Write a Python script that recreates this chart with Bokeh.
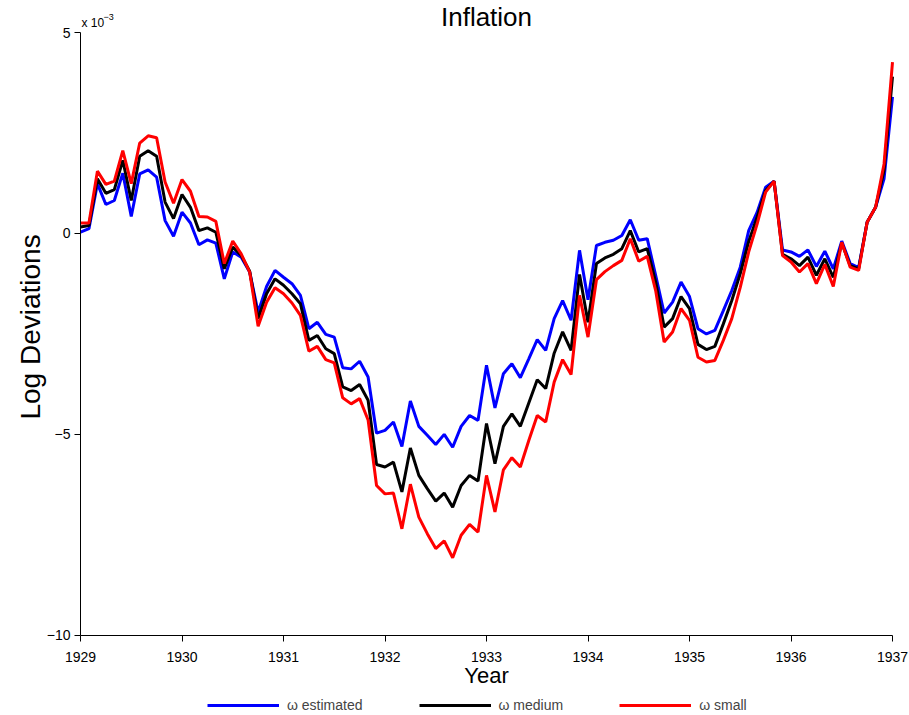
import math
from bokeh.plotting import figure
from bokeh.models import Legend, LegendItem, Label, FixedTicker, Range1d
from bokeh.embed import file_html
from bokeh.resources import INLINE

# ---- data (values in units of 10^-3), monthly Jan 1929 .. Jan 1937 ----
months = [1929 + i / 12 for i in range(97)]

omega_estimated = [
    0.03, 0.12, 1.24, 0.72, 0.82, 1.50, 0.42, 1.48, 1.58, 1.40, 0.32, -0.07,
    0.53, 0.26, -0.28, -0.16, -0.24, -1.13, -0.46, -0.59, -0.96, -1.96, -1.32, -0.92,
    -1.09, -1.25, -1.54, -2.37, -2.21, -2.51, -2.58, -3.34, -3.37, -3.18, -3.57, -4.97,
    -4.90, -4.69, -5.30, -4.17, -4.80, -5.02, -5.25, -5.00, -5.32, -4.80, -4.53, -4.65,
    -3.28, -4.34, -3.49, -3.24, -3.59, -3.12, -2.64, -2.91, -2.12, -1.67, -2.16, -0.42,
    -1.65, -0.30, -0.22, -0.17, -0.05, 0.34, -0.17, -0.13, -1.04, -1.98, -1.71, -1.21,
    -1.57, -2.37, -2.50, -2.41, -1.92, -1.42, -0.84, 0.07, 0.53, 1.15, 1.30, -0.41,
    -0.46, -0.57, -0.41, -0.82, -0.44, -0.88, -0.19, -0.75, -0.85, 0.28, 0.65, 1.36,
    3.40,
]
omega_medium = [
    0.16, 0.20, 1.36, 1.00, 1.09, 1.82, 0.82, 1.92, 2.06, 1.92, 0.78, 0.37,
    0.97, 0.65, 0.07, 0.14, 0.03, -0.88, -0.34, -0.55, -0.94, -2.12, -1.50, -1.13,
    -1.29, -1.50, -1.75, -2.66, -2.54, -2.87, -2.99, -3.82, -3.91, -3.76, -4.15, -5.75,
    -5.81, -5.69, -6.43, -5.34, -6.02, -6.35, -6.66, -6.46, -6.81, -6.27, -6.02, -6.16,
    -4.73, -5.73, -4.80, -4.49, -4.80, -4.22, -3.64, -3.86, -2.98, -2.45, -2.91, -1.02,
    -2.21, -0.75, -0.61, -0.52, -0.38, 0.07, -0.46, -0.38, -1.21, -2.33, -2.12, -1.57,
    -1.87, -2.76, -2.89, -2.81, -2.25, -1.67, -1.00, -0.20, 0.41, 1.07, 1.30, -0.52,
    -0.63, -0.80, -0.59, -1.04, -0.63, -1.09, -0.24, -0.80, -0.88, 0.28, 0.65, 1.57,
    3.90,
]
omega_small = [
    0.26, 0.26, 1.55, 1.22, 1.30, 2.06, 1.24, 2.25, 2.43, 2.38, 1.28, 0.75,
    1.34, 1.05, 0.42, 0.41, 0.30, -0.75, -0.19, -0.51, -0.96, -2.31, -1.71, -1.35,
    -1.50, -1.73, -2.04, -2.93, -2.81, -3.14, -3.22, -4.09, -4.24, -4.11, -4.64, -6.27,
    -6.48, -6.46, -7.35, -6.24, -7.06, -7.47, -7.84, -7.65, -8.07, -7.51, -7.24, -7.43,
    -6.02, -6.93, -5.88, -5.58, -5.81, -5.15, -4.53, -4.69, -3.70, -3.14, -3.51, -1.54,
    -2.58, -1.15, -0.95, -0.80, -0.67, -0.13, -0.69, -0.57, -1.42, -2.70, -2.45, -1.87,
    -2.16, -3.08, -3.20, -3.16, -2.66, -2.12, -1.34, -0.46, 0.24, 1.03, 1.30, -0.55,
    -0.71, -0.96, -0.75, -1.25, -0.77, -1.32, -0.22, -0.84, -0.92, 0.28, 0.65, 1.73,
    4.26,
]

x_ticks = [1929, 1930, 1931, 1932, 1933, 1934, 1935, 1936, 1937]
x_tick_labels = ["1929", "1930", "1931", "1932", "1933", "1934", "1935", "1936", "1937"]
y_ticks = [-10, -5, 0, 5]
y_tick_labels = ["\u221210", "\u22125", "0", "5"]

series_names = ["\u03c9 estimated", "\u03c9 medium", "\u03c9 small"]
series_colors = ["#0000ff", "#000000", "#ff0000"]

FONT = "Liberation Sans"

# The frame spans the whole canvas; both axes are pinned at (1929, -10)
# and bounded to the data box so that nothing outside the frame is clipped.
X0, X1, Y0, Y1 = 1929, 1937, -10, 5
px_per_year = 101.5
px_per_unit = 635 / 15.8
p = figure(width=909, height=715, output_backend="svg", toolbar_location=None,
           x_range=Range1d(X0 - 80 / px_per_year, X1 + 17 / px_per_year),
           y_range=Range1d(Y1 + 32 / px_per_unit - 715 / px_per_unit, Y1 + 32 / px_per_unit),
           min_border_left=0, min_border_right=0, min_border_top=0, min_border_bottom=0,
           title_location=None)
p.outline_line_color = None
p.grid.visible = False
p.background_fill_color = "white"
p.border_fill_color = "white"

for ax in (p.xaxis[0], p.yaxis[0]):
    ax.axis_line_color = "black"
    ax.axis_line_width = 1
    ax.major_tick_line_color = "black"
    ax.major_tick_out = 6
    ax.major_tick_in = 0
    ax.minor_tick_line_color = None
    ax.major_label_text_font = FONT
    ax.major_label_text_font_size = "14px"
    ax.major_label_text_color = "black"

p.xaxis[0].fixed_location = Y0
p.xaxis[0].bounds = (X0, X1)
p.xaxis[0].ticker = FixedTicker(ticks=x_ticks)
p.xaxis[0].major_label_overrides = {t: s for t, s in zip(x_ticks, x_tick_labels)}
p.xaxis[0].major_label_standoff = 11

p.yaxis[0].fixed_location = X0
p.yaxis[0].bounds = (Y0, Y1)
p.yaxis[0].ticker = FixedTicker(ticks=y_ticks)
p.yaxis[0].major_label_overrides = {t: s for t, s in zip(y_ticks, y_tick_labels)}
p.yaxis[0].major_label_standoff = 4

renderers = []
for vals, col in zip([omega_estimated, omega_medium, omega_small], series_colors):
    r = p.line(months, vals, line_color=col, line_width=3)
    renderers.append(r)

legend = Legend(items=[LegendItem(label=n, renderers=[r]) for n, r in zip(series_names, renderers)],
                location=(207, 2), orientation="horizontal", border_line_color=None,
                background_fill_alpha=0, padding=0, margin=0, spacing=56,
                glyph_width=72, glyph_height=14, label_height=14, label_standoff=8,
                label_text_font=FONT, label_text_font_size="14px")
p.add_layout(legend)

def add_text(text, x, y, size, x_offset=0, y_offset=0, align="center", angle=0.0):
    p.add_layout(Label(x=x, y=y, x_offset=x_offset, y_offset=y_offset, text=text,
                       text_align=align, text_baseline="middle", angle=angle,
                       text_font=FONT, text_font_size=size, text_color="black"))

add_text("Inflation", (X0 + X1) / 2, Y1, "26px", y_offset=16)
add_text("x 10", X0, Y1, "12px", x_offset=1, y_offset=10, align="left")
add_text("\u22123", X0, Y1, "9px", x_offset=23, y_offset=16, align="left")
add_text("Year", (X0 + X1) / 2, Y0, "22px", y_offset=-40)
add_text("Log Deviations", X0, (Y0 + Y1) / 2, "28px", x_offset=-50, y_offset=7,
         angle=math.pi / 2)

open("out.html", "w").write(file_html(p, INLINE))
